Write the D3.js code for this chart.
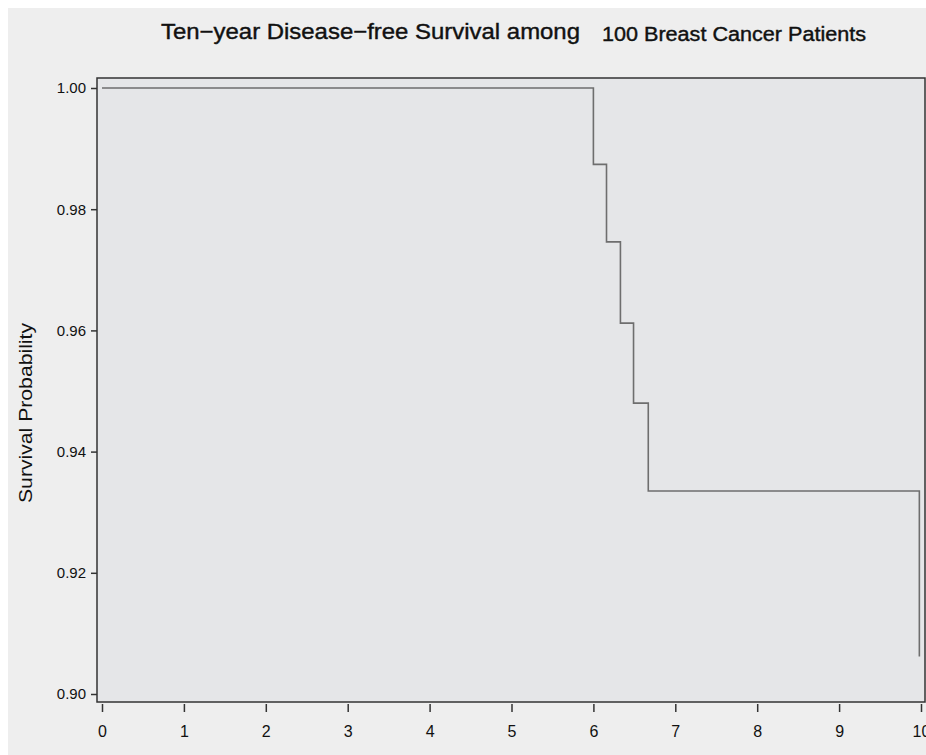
<!DOCTYPE html>
<html>
<head>
<meta charset="utf-8">
<script src="https://cdn.jsdelivr.net/npm/d3@7"></script>
<style>
  html, body { margin: 0; padding: 0; background: #fff; }
  svg { display: block; }
  text { font-family: "Liberation Sans", Arial, sans-serif; fill: #111; }
</style>
</head>
<body>
<svg id="chart" width="926" height="755"></svg>
<script>
// step points of the survival curve (years, probability)
const times = [0, 6.0, 6.16, 6.33, 6.49, 6.67, 9.98];
const survival = [1.0, 0.9874, 0.9746, 0.9612, 0.948, 0.9335, 0.9062];
const xTicks = [0, 1, 2, 3, 4, 5, 6, 7, 8, 9, 10];
const yTicks = [0.90, 0.92, 0.94, 0.96, 0.98, 1.00];

const svg = d3.select('#chart');
const W = 926, H = 755;

// outer panel
svg.append('rect')
  .attr('x', 8).attr('y', 8)
  .attr('width', W - 8).attr('height', H - 8)
  .attr('fill', '#eeeeee');

const box = { left: 97, right: 925, top: 78, bottom: 702 };

// plot area
svg.append('rect')
  .attr('x', box.left).attr('y', box.top)
  .attr('width', box.right - box.left).attr('height', box.bottom - box.top)
  .attr('fill', '#e5e6e8')
  .attr('stroke', '#333')
  .attr('stroke-width', 1.5);

const x = d3.scaleLinear().domain([0, 10]).range([102, 921]);
const y = d3.scaleLinear().domain([0.90, 1.00]).range([694, 88]);

// title (two pieces, as in the original)
svg.append('text')
  .attr('x', 161).attr('y', 39)
  .attr('font-size', '22px')
  .attr('stroke', '#111').attr('stroke-width', 0.4)
  .attr('textLength', 419)
  .attr('lengthAdjust', 'spacingAndGlyphs')
  .text('Ten\u2212year Disease\u2212free Survival among');
svg.append('text')
  .attr('x', 602).attr('y', 41)
  .attr('font-size', '19.5px')
  .attr('stroke', '#111').attr('stroke-width', 0.4)
  .attr('textLength', 264)
  .attr('lengthAdjust', 'spacingAndGlyphs')
  .text('100 Breast Cancer Patients');

// x axis
const gx = svg.append('g')
  .attr('transform', 'translate(0,' + (box.bottom + 2) + ')')
  .call(d3.axisBottom(x).tickValues(xTicks).tickSize(8).tickPadding(14).tickFormat(d3.format('d')));
gx.select('.domain').remove();
gx.selectAll('.tick line').attr('stroke', '#333').attr('stroke-width', 1.5);
gx.selectAll('.tick text')
  .attr('font-size', '16px')
  .attr('font-family', '"Liberation Sans", Arial, sans-serif')
  .attr('fill', '#222');

// y axis
const gy = svg.append('g')
  .attr('transform', 'translate(' + box.left + ',0)')
  .call(d3.axisLeft(y).tickValues(yTicks).tickSize(6).tickPadding(5).tickFormat(d3.format('.2f')));
gy.select('.domain').remove();
gy.selectAll('.tick line').attr('stroke', '#333').attr('stroke-width', 1.5);
gy.selectAll('.tick text')
  .attr('font-size', '15px')
  .attr('font-family', '"Liberation Sans", Arial, sans-serif')
  .attr('fill', '#222');

// y label
svg.append('text')
  .attr('transform', 'translate(32,413) rotate(-90)')
  .attr('text-anchor', 'middle')
  .attr('font-size', '18px')
  .attr('fill', '#222')
  .attr('textLength', 180)
  .attr('lengthAdjust', 'spacingAndGlyphs')
  .text('Survival Probability');

// step curve
const pts = times.map((t, i) => [t, survival[i]]);
const line = d3.line()
  .x(d => x(d[0]))
  .y(d => y(d[1]))
  .curve(d3.curveStepAfter);

svg.append('path')
  .datum(pts)
  .attr('d', line)
  .attr('fill', 'none')
  .attr('stroke', '#6e6e6e')
  .attr('stroke-width', 1.6);
</script>
</body>
</html>
